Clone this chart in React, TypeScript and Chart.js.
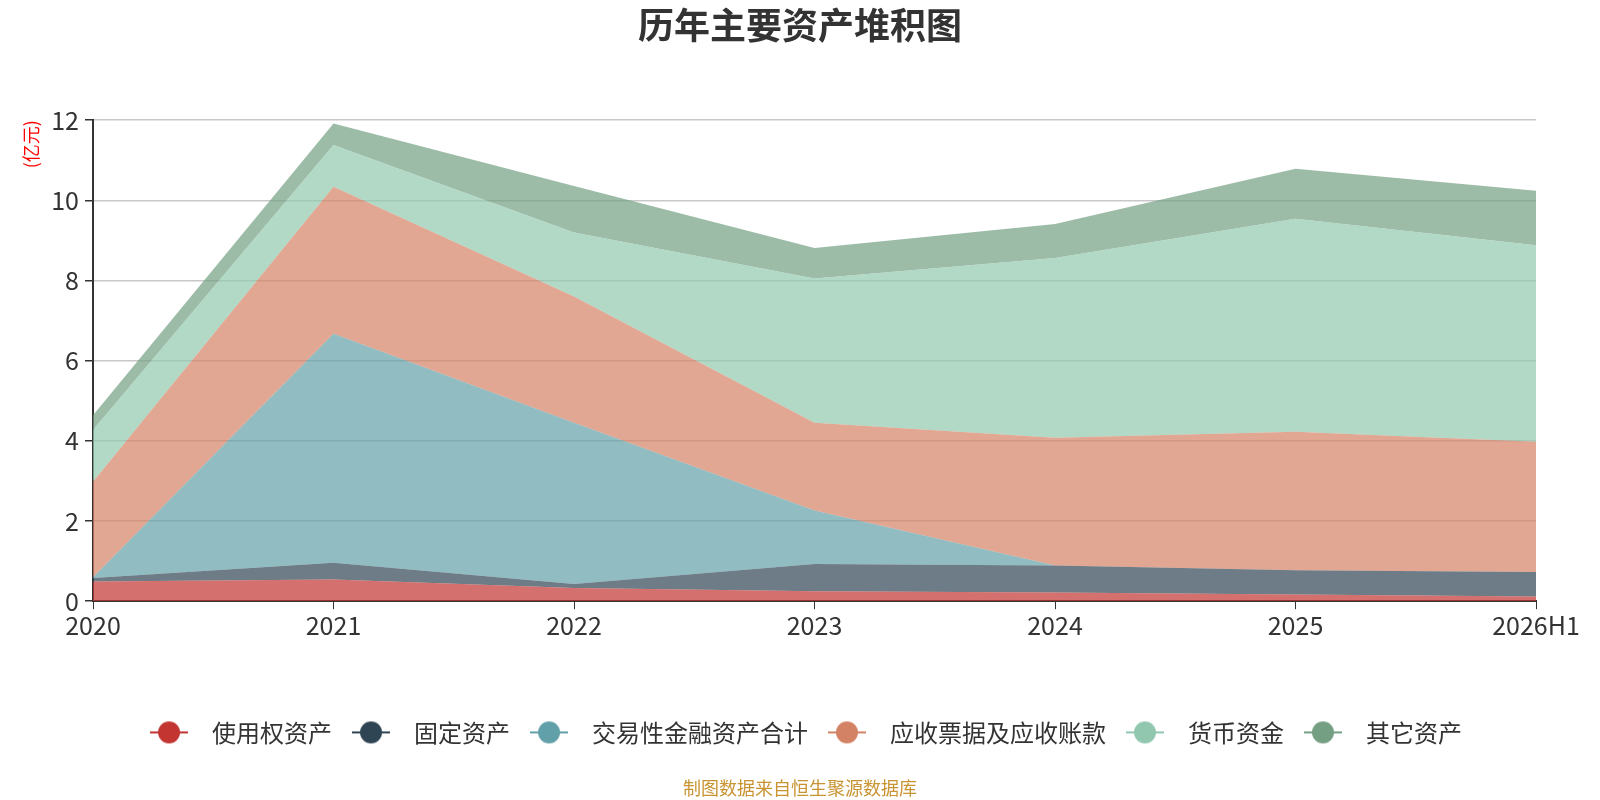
import { useEffect, useRef } from 'react';
import Chart from 'chart.js/auto';

const years = ['2020', '2021', '2022', '2023', '2024', '2025', '2026H1'];

// 亿元, stacked bottom -> top
const rightOfUse = [0.49, 0.54, 0.33, 0.25, 0.22, 0.17, 0.12];
const fixedAssets = [0.09, 0.42, 0.1, 0.68, 0.67, 0.6, 0.61];
const tradingFinancial = [0.02, 5.71, 4.02, 1.33, 0, 0, 0];
const receivables = [2.38, 3.67, 3.15, 2.19, 3.19, 3.46, 3.25];
const cash = [1.29, 1.04, 1.6, 3.6, 4.48, 5.31, 4.9];
const otherAssets = [0.37, 0.54, 1.16, 0.76, 0.85, 1.25, 1.36];

const seriesNames = ['使用权资产', '固定资产', '交易性金融资产合计', '应收票据及应收账款', '货币资金', '其它资产'];
const seriesColors = ['#c23531', '#2f4554', '#61a0a8', '#d48265', '#91c7ae', '#749f83'];
const seriesData = [rightOfUse, fixedAssets, tradingFinancial, receivables, cash, otherAssets];

const FONT = '"Noto Sans CJK SC", "Noto Sans", sans-serif';

function withAlpha(hex: string, a: number) {
  const n = parseInt(hex.slice(1), 16);
  return `rgba(${(n >> 16) & 255}, ${(n >> 8) & 255}, ${n & 255}, ${a})`;
}

function legendIcon(color: string) {
  const c = document.createElement('canvas');
  c.width = 38;
  c.height = 24;
  const g = c.getContext('2d');
  if (g) {
    g.strokeStyle = color;
    g.lineWidth = 2;
    g.beginPath();
    g.moveTo(0, 12);
    g.lineTo(38, 12);
    g.stroke();
    g.fillStyle = color;
    g.beginPath();
    g.arc(19, 12, 11, 0, Math.PI * 2);
    g.fill();
  }
  return c;
}

export default function App() {
  const canvasRef = useRef<HTMLCanvasElement | null>(null);
  const chartRef = useRef<Chart | null>(null);

  useEffect(() => {
    const ctx = canvasRef.current?.getContext('2d');
    if (!ctx) return;
    if (chartRef.current) chartRef.current.destroy();

    const icons = seriesColors.map(legendIcon);

    chartRef.current = new Chart(ctx, {
      type: 'line',
      data: {
        labels: years,
        datasets: seriesNames.map((name, i) => ({
          label: name,
          data: seriesData[i],
          backgroundColor: withAlpha(seriesColors[i], 0.7),
          borderColor: 'rgba(0,0,0,0)',
          borderWidth: 0,
          pointRadius: 0,
          tension: 0,
          fill: i === 0 ? 'origin' : '-1',
        })),
      },
      options: {
        animation: false,
        responsive: true,
        maintainAspectRatio: false,
        layout: { padding: 0 },
        plugins: {
          title: {
            display: true,
            text: '历年主要资产堆积图',
            color: '#333',
            font: { family: FONT, size: 36, weight: 'bold' },
            padding: { top: 4, bottom: 73 },
          },
          subtitle: {
            display: true,
            position: 'bottom',
            text: '制图数据来自恒生聚源数据库',
            color: '#c89432',
            font: { family: FONT, size: 18 },
            padding: { top: 23, bottom: 1 },
          },
          legend: {
            position: 'bottom',
            labels: {
              usePointStyle: true,
              pointStyleWidth: 62,
              padding: 8,
              color: '#333',
              font: { family: FONT, size: 24 },
              generateLabels: (chart) =>
                chart.data.datasets.map((ds, i) => ({
                  text: ds.label as string,
                  fillStyle: seriesColors[i],
                  strokeStyle: seriesColors[i],
                  lineWidth: 0,
                  pointStyle: icons[i],
                  hidden: !chart.isDatasetVisible(i),
                  datasetIndex: i,
                  fontColor: '#333',
                })),
            },
          },
          tooltip: { enabled: false },
        },
        scales: {
          x: {
            offset: false,
            grid: { display: true, drawOnChartArea: false, drawTicks: true, tickLength: 8, tickColor: '#333' },
            border: { display: true, color: '#333', width: 2 },
            ticks: { color: '#333', font: { family: FONT, size: 25 }, padding: 1, maxRotation: 0, autoSkip: false },
            title: { display: true, text: '', font: { size: 1 }, padding: { top: 70, bottom: 0 } },
          },
          y: {
            stacked: true,
            min: 0,
            max: 12,
            grid: { color: '#c8c8c8', lineWidth: 1.5, tickLength: 8, tickColor: '#333' },
            border: { display: true, color: '#333', width: 2 },
            ticks: { stepSize: 2, color: '#333', font: { family: FONT, size: 25 }, padding: 6 },
            title: {
              display: true,
              text: '(亿元)',
              color: 'red',
              align: 'end',
              font: { family: FONT, size: 18 },
              padding: { top: 20, bottom: 0 },
            },
            afterFit: (scale) => {
              scale.width = 93;
            },
          },
          y2: {
            position: 'right',
            display: true,
            grid: { display: false, drawTicks: false },
            border: { display: false },
            ticks: { display: false },
            afterFit: (scale) => {
              scale.width = 64;
            },
          },
        },
      },
    });

    return () => {
      if (chartRef.current) chartRef.current.destroy();
      chartRef.current = null;
    };
  }, []);

  return (
    <div style={{ position: 'fixed', left: 0, top: 0, width: 1600, height: 800, background: '#fff' }}>
      <canvas ref={canvasRef} />
    </div>
  );
}
